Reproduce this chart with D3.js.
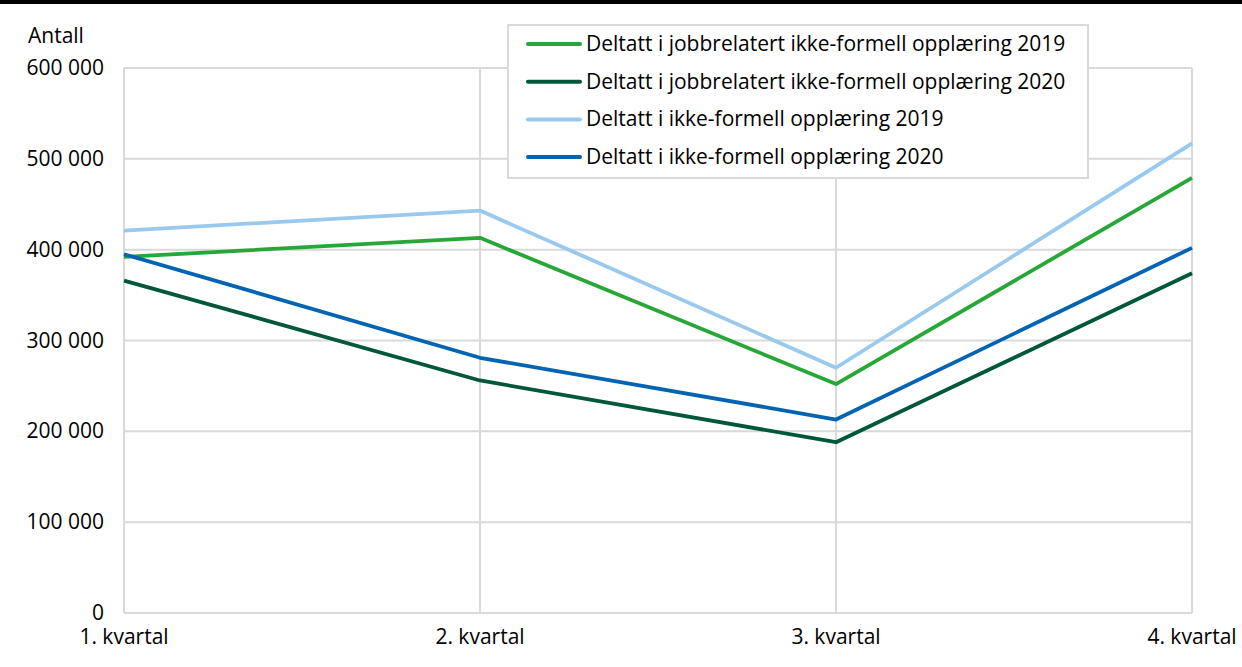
<!DOCTYPE html>
<html>
<head>
<meta charset="utf-8">
<script src="https://cdn.jsdelivr.net/npm/d3@7"></script>
<style>
  body { margin: 0; background: #fff; }
  svg { font-family: "Open Sans", "Noto Sans", sans-serif; }
</style>
</head>
<body>
<svg width="1242" height="667"></svg>
<script>
// data
var quarters = ['1. kvartal', '2. kvartal', '3. kvartal', '4. kvartal'];
var jobb2019 = [392000, 413000, 252000, 479000];
var jobb2020 = [366000, 256000, 188000, 374000];
var ikke2019 = [421000, 443000, 270000, 517000];
var ikke2020 = [395000, 281000, 213000, 402000];
var yTicks = [0, 100000, 200000, 300000, 400000, 500000, 600000];

var seriesNames = [
  'Deltatt i jobbrelatert ikke-formell opplæring 2019',
  'Deltatt i jobbrelatert ikke-formell opplæring 2020',
  'Deltatt i ikke-formell opplæring 2019',
  'Deltatt i ikke-formell opplæring 2020'
];
var seriesColors = ['#27a737', '#00573a', '#99c9ee', '#0064b3'];

var series = [jobb2019, jobb2020, ikke2019, ikke2020].map(function (vals, i) {
  return { name: seriesNames[i], color: seriesColors[i], values: vals };
});

// draw order (legend order is different)
var drawOrder = [2, 0, 1, 3];

var svg = d3.select('svg');
var plotLeft = 124, plotRight = 1192, plotTop = 68, plotBottom = 613;
var fontSize = '21px';

var x = d3.scalePoint().domain(quarters).range([plotLeft, plotRight]);
var y = d3.scaleLinear().domain([0, 600000]).range([plotBottom, plotTop]);

// top rule
svg.append('rect')
  .attr('x', 0).attr('y', 0)
  .attr('width', 1242).attr('height', 4)
  .attr('fill', '#000');

// horizontal grid
svg.append('g').selectAll('line')
  .data(yTicks)
  .enter().append('line')
  .attr('x1', plotLeft).attr('x2', plotRight)
  .attr('y1', d => y(d)).attr('y2', d => y(d))
  .style('stroke', '#d9d9d9').style('stroke-width', 2);

// vertical grid
svg.append('g').selectAll('line')
  .data(quarters)
  .enter().append('line')
  .attr('x1', d => x(d)).attr('x2', d => x(d))
  .attr('y1', plotTop).attr('y2', plotBottom)
  .style('stroke', '#d9d9d9').style('stroke-width', 2);

// y labels
var fmt = function (d) {
  return d3.format(',')(d).replace(/,/g, ' ');
};
svg.append('g').selectAll('text')
  .data(yTicks)
  .enter().append('text')
  .attr('x', 104)
  .attr('y', d => y(d) + 7)
  .attr('text-anchor', 'end')
  .attr('font-size', fontSize)
  .attr('fill', '#000')
  .text(fmt);

svg.append('text')
  .attr('x', 28).attr('y', 43)
  .attr('font-size', fontSize)
  .text('Antall');

// x labels
svg.append('g').selectAll('text')
  .data(quarters)
  .enter().append('text')
  .attr('x', d => x(d))
  .attr('y', 644)
  .attr('text-anchor', 'middle')
  .attr('font-size', fontSize)
  .text(d => d);

// lines
var line = d3.line()
  .x((d, i) => x(quarters[i]))
  .y(d => y(d));

svg.append('g').selectAll('path')
  .data(drawOrder.map(i => series[i]))
  .enter().append('path')
  .attr('d', d => line(d.values))
  .attr('fill', 'none')
  .attr('stroke', d => d.color)
  .attr('stroke-width', 3.8)
  .attr('stroke-linejoin', 'round');

// legend
var legend = svg.append('g');
legend.append('rect')
  .attr('x', 508).attr('y', 25)
  .attr('width', 580).attr('height', 153)
  .attr('fill', '#fff')
  .attr('stroke', '#d9d9d9').attr('stroke-width', 2);

var item = legend.selectAll('g.item')
  .data(series)
  .enter().append('g')
  .classed('item', true)
  .attr('transform', (d, i) => 'translate(0,' + (44 + i * 37.7) + ')');

item.append('line')
  .attr('x1', 528).attr('x2', 580)
  .attr('y1', 0).attr('y2', 0)
  .attr('stroke', d => d.color)
  .attr('stroke-width', 4)
  .attr('stroke-linecap', 'round');

item.append('text')
  .attr('x', 586).attr('y', 7)
  .attr('font-size', fontSize)
  .text(d => d.name);
</script>
</body>
</html>
